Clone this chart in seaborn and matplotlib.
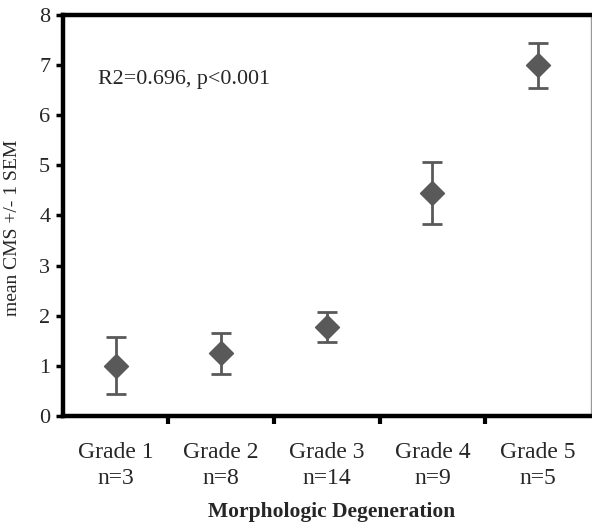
import numpy as np
import pandas as pd
import matplotlib
matplotlib.use("Agg")
import matplotlib.pyplot as plt
import seaborn as sns

# values
grades = ["Grade 1", "Grade 2", "Grade 3", "Grade 4", "Grade 5"]
counts = ["n=3", "n=8", "n=14", "n=9", "n=5"]
mean_cms = [1.0, 1.25, 1.78, 4.45, 7.0]
sem = [0.57, 0.41, 0.30, 0.61, 0.45]

df = pd.DataFrame({"grade": grades, "cms": mean_cms, "sem": sem})

sns.set_style("white")
plt.rcParams["font.family"] = ["Liberation Serif", "DejaVu Serif"]

fig = plt.figure(figsize=(5.92, 5.27), dpi=100)
ax = fig.add_axes([0.106, 0.2106, 0.892, 0.761])

grey = "#595959"
pos = np.arange(len(grades))
ax.errorbar(pos, df["cms"], yerr=df["sem"], fmt="none", ecolor=grey,
            elinewidth=2, capsize=7, capthick=2, zorder=2)
sns.scatterplot(data=df, x="grade", y="cms", marker="D", s=150,
                color=grey, edgecolor=grey, ax=ax, zorder=3, legend=False)

ax.set_xlim(-0.5, 4.5)
ax.set_ylim(0, 8)
ax.set_yticks(range(0, 9))

# category labels without marks, marks between categories
ax.set_xticks(pos)
ax.set_xticklabels([f"{g}\n{n}" for g, n in zip(grades, counts)],
                   fontsize=17, linespacing=1.3)
ax.set_xticks(pos[:-1] + 0.5, minor=True)
ax.tick_params(axis="x", which="major", length=0, pad=19)
ax.tick_params(axis="x", which="minor", direction="out", length=6,
               width=3, color="black", bottom=True)
ax.tick_params(axis="y", direction="out", length=5, width=2.5,
               color="black", left=True, labelsize=16, pad=4)

for side in ["left", "bottom", "top"]:
    ax.spines[side].set_linewidth(3.2)
    ax.spines[side].set_color("black")
ax.spines["right"].set_linewidth(1)
ax.spines["right"].set_color("#999999")

ax.set_xlabel("Morphologic Degeneration", fontsize=15.5, fontweight="bold")
ax.xaxis.set_label_coords(0.51, -0.215)
ax.set_ylabel("mean CMS +/- 1 SEM", fontsize=14)
ax.yaxis.set_label_coords(-0.08, 0.47)

ax.text(0.066, 0.838, "R2=0.696, p<0.001", transform=ax.transAxes,
        fontsize=15.8, va="center", ha="left")

fig.savefig("out.png", dpi=100)
